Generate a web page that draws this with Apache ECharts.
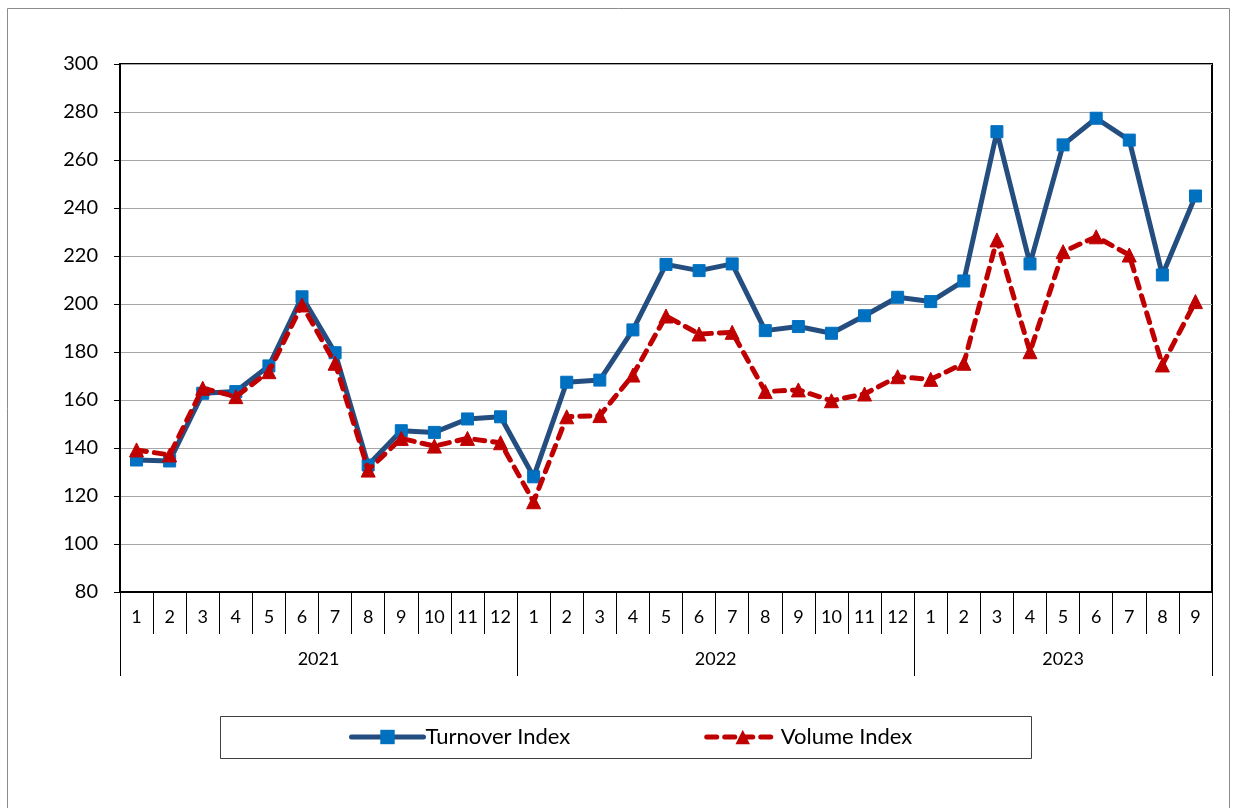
<!DOCTYPE html>
<html>
<head>
<meta charset="utf-8">
<script src="https://cdn.jsdelivr.net/npm/echarts@6/dist/echarts.min.js"></script>
<style>
html,body{margin:0;padding:0;background:#fff;}
#chart{width:1236px;height:808px;}
</style>
</head>
<body>
<div id="chart"></div>
<script>
const monthLabels = ['1','2','3','4','5','6','7','8','9','10','11','12',
                     '1','2','3','4','5','6','7','8','9','10','11','12',
                     '1','2','3','4','5','6','7','8','9'];
const years = ['2021','2022','2023'];
const yearSpans = [12, 12, 9];
const turnoverIndex = [135.0,134.6,162.8,163.5,174.2,203.0,179.7,132.9,147.2,146.5,152.1,153.0,
                       128.0,167.4,168.3,189.2,216.5,213.9,216.7,188.9,190.6,187.8,195.1,202.8,
                       201.0,209.6,271.8,216.7,266.3,277.4,268.3,212.1,245.0];
const volumeIndex = [139.2,137.1,164.9,161.4,171.8,199.6,175.3,130.8,144.0,140.8,144.0,142.2,
                     117.6,153.0,153.5,170.4,195.0,187.5,188.2,163.5,164.2,159.7,162.5,169.7,
                     168.6,175.3,226.7,180.1,221.8,228.0,220.4,174.6,201.0];
const yTicks = {min: 80, max: 300, interval: 20};
const seriesNames = ['Turnover Index', 'Volume Index'];

// year group boundaries and centres (in category units)
const yearBounds = [0];
yearSpans.forEach(s => yearBounds.push(yearBounds[yearBounds.length - 1] + s));
const yearCenters = yearSpans.map((s, i) => yearBounds[i] + s / 2);

const FONT = 'Lato';
const chart = echarts.init(document.getElementById('chart'));
chart.setOption({
  backgroundColor: '#fff',
  animation: false,
  textStyle: {fontFamily: FONT, color: '#000'},
  graphic: [
    {type: 'rect', silent: true, z: -10,
     shape: {x: 7.5, y: 8.5, width: 1222, height: 900},
     style: {fill: 'none', stroke: '#8c8c8c', lineWidth: 1}},
    {type: 'rect', silent: true, z: -10,
     shape: {x: 220.5, y: 716.5, width: 811, height: 42},
     style: {fill: '#fff', stroke: '#404040', lineWidth: 1}}
  ],
  grid: {left: 120, right: 24, top: 64, bottom: 216, show: true,
         borderColor: '#000', borderWidth: 2, backgroundColor: 'transparent'},
  legend: {
    left: 349, top: 726, padding: 0, itemGap: 134,
    itemWidth: 72, itemHeight: 18,
    lineStyle: {width: 5, cap: 'round'},
    textStyle: {fontFamily: FONT, fontSize: 22, color: '#000', padding: [0, 0, 0, -3]},
    data: seriesNames
  },
  xAxis: [
    {type: 'category', data: monthLabels, boundaryGap: true, position: 'bottom',
     axisLine: {show: true, lineStyle: {color: '#000', width: 2}},
     axisTick: {show: true, interval: 0, length: 42, lineStyle: {color: '#000', width: 1}},
     axisLabel: {interval: 0, margin: 16, fontSize: 18, color: '#000', fontFamily: FONT},
     splitLine: {show: false}},
    {type: 'value', min: 0, max: yearBounds[yearBounds.length - 1], position: 'bottom', offset: 42,
     axisLine: {show: false},
     axisTick: {show: true, customValues: yearBounds, length: 42, lineStyle: {color: '#000', width: 1}},
     axisLabel: {show: true, customValues: yearCenters, margin: 16, fontSize: 18, color: '#000', fontFamily: FONT,
                 formatter: v => years[yearCenters.indexOf(v)]},
     splitLine: {show: false}}
  ],
  yAxis: {
    type: 'value', min: yTicks.min, max: yTicks.max, interval: yTicks.interval,
    axisLine: {show: true, lineStyle: {color: '#000', width: 2}},
    axisTick: {show: true, length: 6, lineStyle: {color: '#000', width: 1}},
    axisLabel: {fontSize: 20, color: '#000', margin: 22, fontFamily: FONT},
    splitLine: {show: true, lineStyle: {color: '#a6a6a6', width: 1}}
  },
  series: [
    {name: seriesNames[0], type: 'line', data: turnoverIndex, xAxisIndex: 0, z: 2,
     symbol: 'rect', symbolSize: 12,
     lineStyle: {color: '#254e80', width: 5},
     itemStyle: {color: '#0070c0', borderColor: '#0070c0'},
     color: '#254e80'},
    {name: seriesNames[1], type: 'line', data: volumeIndex, xAxisIndex: 0, z: 3,
     symbol: 'triangle', symbolSize: 14,
     lineStyle: {color: '#c00000', width: 5, type: [10, 8], cap: 'round'},
     itemStyle: {color: '#c00000', borderColor: '#c00000'},
     color: '#c00000'}
  ]
});
</script>
</body>
</html>
